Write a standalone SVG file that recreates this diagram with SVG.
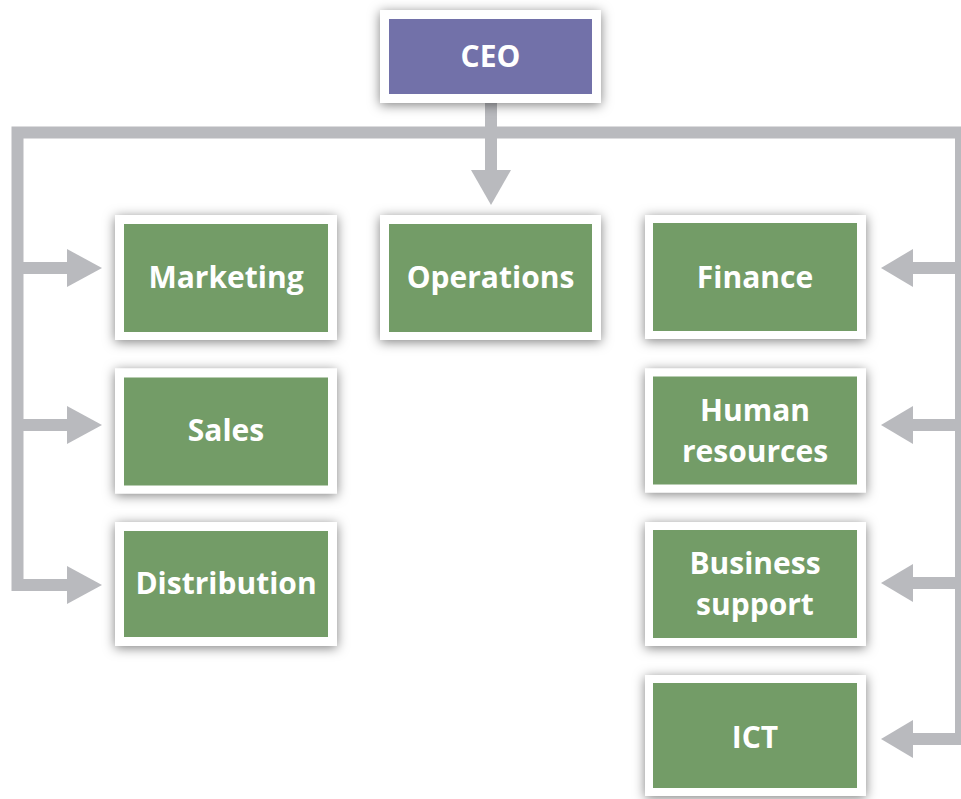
<svg xmlns="http://www.w3.org/2000/svg" width="961" height="799" viewBox="0 0 961 799">
<defs>
<filter id="sh" x="-20%" y="-30%" width="140%" height="160%">
<feDropShadow dx="0" dy="2" stdDeviation="6" flood-color="#000" flood-opacity="0.5"/>
</filter>
<style>
.frame{fill:#fff;filter:url(#sh)}
.g{fill:#739c67}
.p{fill:#7271a9}
.t{fill:#fff;font-family:"Open Sans","Noto Sans",sans-serif;font-weight:bold;font-size:30px;text-anchor:middle}
.c{fill:none;stroke:#b9babe;stroke-width:12;stroke-linejoin:miter;stroke-linecap:butt}
.h{fill:#b9babe}
</style>
</defs>
<rect width="961" height="799" fill="#fff"/>
<g id="connectors">
<path class="c" d="M17.5 591 V132.5 H970"/>
<path class="c" d="M491 102 V172"/>
<polygon class="h" points="471,170 511,170 491,205"/>
<path class="c" d="M17.5 268 H69"/>
<polygon class="h" points="67,249 67,287 102,268"/>
<path class="c" d="M17.5 425 H69"/>
<polygon class="h" points="67,406 67,444 102,425"/>
<path class="c" d="M17.5 585 H69"/>
<polygon class="h" points="67,566 67,604 102,585"/>
<path class="c" d="M961 132 V745"/>
<path class="c" d="M961 268 H911"/>
<polygon class="h" points="913,249 913,287 881,268"/>
<path class="c" d="M961 425 H911"/>
<polygon class="h" points="913,406 913,444 881,425"/>
<path class="c" d="M961 583 H911"/>
<polygon class="h" points="913,564 913,602 881,583"/>
<path class="c" d="M961 739 H911"/>
<polygon class="h" points="913,720 913,758 881,739"/>
</g>
<g id="ceo">
<rect class="frame" x="380" y="10" width="221" height="93"/>
<rect class="p" x="389" y="19" width="203" height="75"/>
<text class="t" x="490.5" y="67">CEO</text>
</g>
<g id="marketing">
<rect class="frame" x="115" y="215" width="222" height="125"/>
<rect class="g" x="124" y="224" width="204" height="108"/>
<text class="t" x="226" y="288">Marketing</text>
</g>
<g id="sales">
<rect class="frame" x="115" y="368.5" width="222" height="125"/>
<rect class="g" x="124" y="377.5" width="204" height="108"/>
<text class="t" x="226" y="441">Sales</text>
</g>
<g id="distribution">
<rect class="frame" x="115" y="522" width="222" height="124"/>
<rect class="g" x="124" y="531" width="204" height="106"/>
<text class="t" x="226" y="594">Distribution</text>
</g>
<g id="operations">
<rect class="frame" x="380" y="215" width="221" height="125"/>
<rect class="g" x="389" y="224" width="203" height="108"/>
<text class="t" x="490.5" y="288">Operations</text>
</g>
<g id="finance">
<rect class="frame" x="645" y="215" width="221" height="124"/>
<rect class="g" x="653" y="223" width="204" height="108"/>
<text class="t" x="755" y="288">Finance</text>
</g>
<g id="human-resources">
<rect class="frame" x="645" y="368.5" width="221" height="124"/>
<rect class="g" x="653" y="376.5" width="204" height="108"/>
<text class="t" x="755" y="421">Human</text>
<text class="t" x="755" y="462">resources</text>
</g>
<g id="business-support">
<rect class="frame" x="645" y="522" width="221" height="124"/>
<rect class="g" x="653" y="530" width="204" height="108"/>
<text class="t" x="755" y="574">Business</text>
<text class="t" x="755" y="615">support</text>
</g>
<g id="ict">
<rect class="frame" x="645" y="675" width="221" height="121"/>
<rect class="g" x="653" y="683" width="204" height="105"/>
<text class="t" x="755" y="748">ICT</text>
</g>
</svg>
